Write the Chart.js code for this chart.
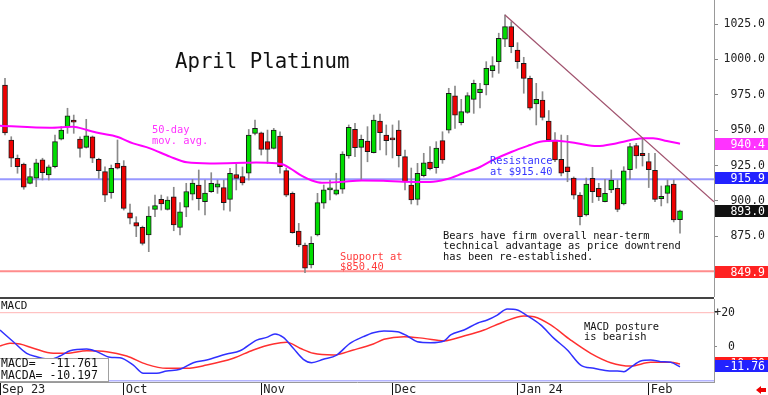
<!DOCTYPE html>
<html lang="en">
<head>
<meta charset="utf-8">
<title>April Platinum</title>
<script src="https://cdn.jsdelivr.net/npm/chart.js@4.4.1/dist/chart.umd.min.js"></script>
<style>
  html, body { margin: 0; padding: 0; background: #fff; }
  #page { position: relative; width: 768px; height: 395px; overflow: hidden; background: #fff;
          font-family: "DejaVu Sans Mono", monospace; }
  canvas { position: absolute; left: 0; }
  #priceCanvas { top: 0; }
  #macdCanvas { top: 297px; }
  .txt { position: absolute; white-space: pre; font-size: 10.4px; line-height: 10.4px; color: #111; }
  .box { position: absolute; left: 715px; width: 53px; height: 12px; color: #fff; font-size: 11.5px;
         line-height: 12px; text-align: right; padding-right: 3px; box-sizing: border-box; }
  #sep { position: absolute; left: 0; top: 297px; width: 714px; height: 2px; background: #444; }
  #legendBox { position: absolute; left: -1px; top: 358px; width: 110px; height: 24px;
               border: 1px solid #a0a0a0; background: #fff; box-sizing: border-box; }
  #arrowHead { position: absolute; left: 756px; top: 386px; width: 0; height: 0;
               border-top: 4px solid transparent; border-bottom: 4px solid transparent; border-right: 5px solid #e00; }
  #arrowTail { position: absolute; left: 760px; top: 388px; width: 6px; height: 4px; background: #e00; }
</style>
</head>
<body>
<div id="page">
  <canvas id="priceCanvas" width="768" height="297"></canvas>
  <canvas id="macdCanvas" width="768" height="98"></canvas>
  <div id="sep"></div>

  <div class="txt" style="left:175px; top:49px; font-size:20.7px; line-height:24px;">April Platinum</div>
  <div class="txt" style="left:152px; top:124px; line-height:10.7px; color:#ff33ff;">50-day
mov. avg.</div>
  <div class="txt" style="left:490px; top:155px; line-height:11px; color:#3636ff;">Resistance
at $915.40</div>
  <div class="txt" style="left:340px; top:251px; line-height:10px; color:#ff3c3c;">Support at
$850.40</div>
  <div class="txt" style="left:443px; top:230px;">Bears have firm overall near-term
technical advantage as price downtrend
has been re-established.</div>
  <div class="txt" style="left:584px; top:321px; line-height:10px;">MACD posture
is bearish</div>
  <div class="txt" style="left:1px; top:300px; font-size:11px; line-height:12px;">MACD</div>

  <div id="legendBox"></div>
  <div class="txt" id="legendText" style="left:1px; top:357px; font-size:11.5px; line-height:12px;"></div>

  <div class="box" id="boxMa" style="background:#ff33ff;"></div>
  <div class="box" id="boxRes" style="background:#2222ff;"></div>
  <div class="box" id="boxLast" style="background:#111;"></div>
  <div class="box" id="boxSup" style="background:#ff2222;"></div>
  <div class="box" id="boxSig" style="background:#ff1a1a;"></div>
  <div class="box" id="boxMacd" style="background:#2222ff;"></div>

  <div id="arrowHead"></div>
  <div id="arrowTail"></div>
</div>

<script>
// ---- daily candles, Sep 5 2023 .. Feb 8 2024 ----
const opens  = [981.9, 943.1, 930.2, 926.1, 912.5, 916.1, 929.0, 918.4, 924.2, 943.6,
                952.5, 957.2, 943.8, 937.9, 945.4, 929.5, 920.7, 905.9, 926.6, 924.7,
                891.7, 884.7, 881.4, 876.0, 894.1, 901.2, 894.1, 903.0, 881.3, 895.6,
                904.9, 911.3, 899.5, 906.6, 909.7, 909.5, 901.2, 918.7, 917.3, 919.6,
                947.8, 948.2, 941.9, 937.2, 945.9, 921.4, 905.4, 878.8, 868.9, 854.8,
                876.0, 898.4, 907.8, 904.9, 908.3, 931.8, 950.6, 937.9, 942.4, 934.1,
                956.5, 946.6, 943.8, 950.1, 931.3, 911.3, 901.2, 917.9, 927.5, 923.6,
                942.6, 950.1, 974.2, 955.3, 962.6, 971.8, 976.5, 981.9, 992.0, 998.4,
                1014.2, 1023.1, 1006.6, 997.2, 986.6, 968.5, 971.3, 956.5, 943.1, 929.5,
                924.2, 916.2, 904.2, 890.1, 916.0, 909.0, 899.5, 907.8, 909.0, 897.9,
                922.2, 939.2, 933.7, 927.8, 921.7, 901.6, 905.4, 912.0, 886.9];
const highs  = [986.7, 945.4, 932.5, 926.8, 923.1, 929.5, 930.2, 925.4, 946.6, 952.5,
                965.5, 960.7, 945.4, 957.7, 945.9, 930.2, 924.2, 925.4, 943.1, 928.5,
                897.9, 888.9, 882.3, 896.0, 904.2, 904.2, 903.0, 909.7, 898.8, 912.5,
                915.3, 921.9, 914.8, 920.0, 914.8, 914.8, 923.1, 926.1, 924.0, 950.5,
                957.2, 948.7, 950.1, 951.3, 948.9, 923.3, 906.4, 884.2, 870.3, 874.8,
                905.4, 911.3, 914.8, 919.6, 934.8, 953.7, 954.9, 946.6, 952.5, 960.7,
                961.4, 953.7, 953.7, 956.7, 936.0, 923.3, 926.6, 933.7, 938.4, 941.9,
                948.9, 979.6, 981.2, 971.8, 976.5, 985.4, 983.1, 998.4, 1001.9, 1018.5,
                1031.4, 1026.6, 1011.8, 1001.5, 988.3, 983.1, 977.2, 963.9, 948.4, 946.6,
                946.3, 917.0, 905.9, 916.2, 923.8, 912.5, 915.3, 921.9, 914.8, 924.2,
                940.7, 940.7, 944.3, 933.7, 933.7, 910.6, 914.8, 914.8, 893.6];
const lows   = [946.6, 924.2, 919.6, 908.3, 912.0, 910.1, 914.8, 914.8, 923.3, 943.1,
                947.8, 947.8, 930.9, 937.4, 927.1, 916.0, 899.5, 901.9, 922.6, 893.6,
                883.8, 874.8, 868.9, 864.2, 888.9, 893.6, 893.6, 879.0, 876.0, 888.9,
                900.7, 893.6, 890.1, 906.0, 905.4, 893.6, 892.9, 907.8, 911.3, 914.8,
                946.6, 932.5, 926.6, 936.7, 919.6, 903.0, 877.2, 867.7, 849.4, 852.7,
                875.3, 894.8, 900.7, 904.2, 905.4, 930.2, 931.3, 914.8, 927.7, 933.9,
                936.0, 932.5, 930.4, 924.0, 907.8, 897.9, 897.2, 917.0, 921.9, 919.6,
                926.6, 948.0, 951.3, 953.7, 961.9, 961.9, 965.7, 974.9, 987.4, 990.2,
                1009.0, 1004.7, 993.7, 976.1, 964.3, 953.7, 957.2, 941.9, 927.7, 917.7,
                913.6, 901.4, 883.1, 889.4, 898.9, 900.3, 899.3, 905.9, 892.4, 897.2,
                915.5, 923.1, 924.7, 909.5, 899.5, 896.5, 898.6, 885.2, 877.2];
const closes = [948.0, 930.2, 924.2, 909.7, 917.2, 927.0, 920.0, 924.2, 941.9, 950.1,
                960.2, 955.6, 937.2, 946.1, 930.2, 921.4, 904.2, 923.1, 923.1, 894.8,
                887.8, 882.3, 870.1, 889.4, 896.7, 897.9, 900.7, 883.1, 892.4, 906.7,
                912.7, 901.6, 905.6, 912.4, 912.2, 898.8, 919.6, 916.0, 912.7, 946.6,
                951.3, 936.5, 936.5, 950.1, 924.2, 904.2, 877.6, 868.9, 852.5, 870.1,
                898.8, 907.8, 909.0, 907.8, 933.2, 952.0, 937.6, 943.6, 934.8, 957.2,
                948.2, 942.6, 943.2, 932.0, 913.6, 900.7, 919.6, 927.0, 922.8, 937.4,
                929.0, 976.1, 960.7, 963.1, 974.4, 983.1, 979.1, 993.7, 995.6, 1014.9,
                1023.1, 1009.0, 998.4, 986.6, 965.5, 971.8, 959.1, 943.1, 929.0, 919.6,
                920.7, 904.2, 889.0, 911.9, 906.6, 902.8, 905.4, 914.8, 894.0, 921.3,
                938.4, 931.8, 932.0, 922.1, 901.2, 903.3, 910.9, 886.6, 893.0];

// 50-day moving average, read at sampled candle positions
const maIdx  = [-0.8, 7.2, 10.9, 13.1, 15.2, 17.9, 20.5, 23.2, 26.4, 29.1, 32.8, 38.4, 40.2,
                43.4, 44.5, 45.8, 47.5, 49.1, 50.7, 53.6, 57.1, 60.5, 63.7, 68, 70.6, 73.3,
                76, 78.1, 81.1, 84, 85.6, 88.3, 91.5, 94.7, 97.9, 102.1, 103.7, 105.9, 108];
const maVals = [953.2, 951.8, 952.5, 950.1, 947.8, 945.4, 940.7, 937.2, 931.3, 927.3, 926.5,
                927.0, 927.2, 926.6, 925.8, 922.6, 917.7, 914.5, 912.9, 913.4, 914.5, 914.3,
                913.6, 913.4, 915.3, 919.6, 924.0, 929.0, 934.8, 939.5, 941.9, 942.6, 940.8,
                938.8, 940.8, 944.3, 944.3, 942.4, 940.4];

// MACD (blue) and MACDA signal (red)
const macdIdx  = [-0.8, 1.33, 3.47, 5.07, 7.2, 8.8, 10.4, 13.07, 14.67, 16.8, 18.4, 20.53,
                  22.13, 24.27, 25.87, 28, 30.13, 32.27, 35.47, 37.6, 40.27, 41.87, 43.2,
                  44.53, 46.13, 47.73, 49.07, 50.93, 53.07, 55.2, 57.33, 58.93, 60.64, 62.77,
                  64.37, 65.97, 68.11, 70.24, 71.31, 73.44, 75.57, 77.17, 78.77, 80.37, 81.97,
                  83.57, 85.71, 87.84, 89.97, 92.11, 94.24, 96.37, 97.97, 99.04, 100.11,
                  101.71, 103.31, 104.91, 106.51, 108];
const macdVals = [9.8, 2.9, -3.9, -5.9, -7.4, -5.5, -2.4, -1.4, -2.9, -6.2, -6.5, -10.8,
                  -15.6, -15.6, -14.3, -13.3, -9.4, -7.8, -4.3, -2.4, 3.9, 5.5, 7.5,
                  5.5, -0.9, -7.4, -9.4, -7.4, -4.9, 2.0, 5.9, 8.2, 9.2, 8.8,
                  6.3, 2.9, 2.4, 3.4, 6.9, 9.8, 13.8, 15.7, 18.6, 22.2, 21.6,
                  18.2, 12.8, 4.9, -1.9, -10.8, -12.7, -14.1, -14.3, -14.7, -12.1,
                  -8.4, -7.8, -8.8, -9.2, -11.761];
const sigIdx   = [-0.8, 0.8, 2.4, 4.53, 7.73, 9.87, 13.07, 16.27, 19.47, 22.67, 25.87, 29.07,
                  32.27, 36.53, 39.73, 42.93, 45.07, 47.2, 49.33, 52.53, 55.73, 58.93, 60.64,
                  63.84, 67.04, 70.24, 73.44, 76.64, 79.84, 83.04, 84.64, 87.31, 90.51, 93.71,
                  96.91, 100.11, 103.31, 106.51, 108];
const sigVals  = [0.4, 2.0, 1.6, -0.9, -3.9, -3.9, -2.4, -2.9, -5.5, -10.4, -12.7, -12.7,
                  -10.8, -6.8, -1.9, 1.6, 2.6, -0.9, -3.9, -4.9, -1.9, 1.6, 4.4,
                  5.9, 4.9, 3.4, 6.3, 9.8, 14.7, 18.1, 17.6, 12.8, 3.9, -3.9,
                  -9.4, -11.4, -9.2, -9.2, -10.197];

// reference levels and trendline
const resistance = 915.4;
const support = 850.4;
const trendIdx = [80, 113.44];
const trendVals = [1031.4, 899.5];
const macdLevels = [20, -20];

// axis ticks and right-edge value tags
const priceTicks = [875, 900, 925, 950, 975, 1000, 1025];
const macdTicks = [20, 0];
const monthIdx = [-0.8, 19, 41, 62, 82, 103];
const monthLabels = ['Sep 23', 'Oct', 'Nov', 'Dec', 'Jan 24', 'Feb'];
const maTag = 940.4, resTag = 915.9, supTag = 849.9;

// x range: 6.25 px per candle, first candle at x=5
const X_MIN = -0.8, X_MAX = 113.44;

Chart.defaults.font.family = '"DejaVu Sans Mono", monospace';
Chart.defaults.color = '#222';

const tickFont = { family: '"DejaVu Sans Mono", monospace', size: 11.5 };
const idx = closes.map((_, i) => i);
const bodyColors = closes.map((c, i) => c >= opens[i] ? '#00dd00' : '#ee0000');
const flat = (v) => [{ x: X_MIN, y: v }, { x: X_MAX, y: v }];
const pairs = (xs, ys) => xs.map((x, k) => ({ x: x, y: ys[k] }));

function lineSet(data, color, width, order, extra) {
    return Object.assign({
        type: 'line', data: data, borderColor: color, borderWidth: width,
        pointRadius: 0, fill: false, order: order
    }, extra || {});
}

// ==================== PRICE PANEL ====================
// right axis: 714..765, labels right-aligned at 765
const priceChart = new Chart(document.getElementById('priceCanvas'), {
    type: 'bar',
    data: {
        datasets: [
            lineSet(flat(support), '#ff8c8c', 2, 7),
            lineSet(flat(resistance), '#9898ff', 2, 7),
            {
                type: 'bar', data: idx.map(i => ({ x: i, y: [lows[i], highs[i]] })),
                backgroundColor: '#8a8a8a', barThickness: 1, grouped: false, order: 6
            },
            {
                type: 'bar',
                data: idx.map(i => ({ x: i, y: [Math.min(opens[i], closes[i]), Math.max(opens[i], closes[i])] })),
                backgroundColor: bodyColors, borderColor: '#1a1a1a', borderWidth: 1,
                borderSkipped: false, barThickness: 5, minBarLength: 2, grouped: false, order: 5
            },
            lineSet(pairs(maIdx, maVals), '#ff00ff', 2, 4, { cubicInterpolationMode: 'monotone' }),
            lineSet(pairs(trendIdx, trendVals), '#a0526e', 1.2, 3)
        ]
    },
    options: {
        responsive: false,
        animation: false,
        events: [],
        layout: { padding: { top: 0, left: 0, bottom: 0, right: 3 } },
        plugins: { legend: { display: false }, tooltip: { enabled: false } },
        scales: {
            x: { type: 'linear', min: X_MIN, max: X_MAX, offset: false, display: false, grid: { offset: false } },
            y: {
                position: 'right', min: 832.2, max: 1041.95,
                afterBuildTicks: s => { s.ticks = priceTicks.map(v => ({ value: v })); },
                afterFit: s => { s.width = 51; s.paddingTop = 0; s.paddingBottom = 0; },
                ticks: { font: tickFont, crossAlign: 'far', padding: 4, callback: v => Number(v).toFixed(1) },
                grid: { drawOnChartArea: false, tickLength: 4, color: '#888' },
                border: { display: true, color: '#999' }
            }
        }
    }
});

// ==================== MACD PANEL ====================
// right axis: 714..735, labels right-aligned at 735
const macdChart = new Chart(document.getElementById('macdCanvas'), {
    type: 'line',
    data: {
        datasets: [
            lineSet(flat(macdLevels[0]), '#ffb4b4', 1, 4),
            lineSet(flat(macdLevels[1]), '#b4b4ff', 1.5, 4),
            lineSet(pairs(sigIdx, sigVals), '#ff3030', 1.5, 3, { cubicInterpolationMode: 'monotone' }),
            lineSet(pairs(macdIdx, macdVals), '#3030ff', 1.5, 2, { cubicInterpolationMode: 'monotone' })
        ]
    },
    options: {
        responsive: false,
        animation: false,
        events: [],
        layout: { padding: { top: 2, left: 0, right: 33, bottom: 0 } },
        plugins: { legend: { display: false }, tooltip: { enabled: false } },
        scales: {
            x: {
                type: 'linear', min: X_MIN, max: X_MAX, offset: false,
                afterBuildTicks: s => { s.ticks = monthIdx.map(v => ({ value: v })); },
                afterFit: s => { s.height = 13; s.paddingLeft = 0; s.paddingRight = 0; },
                ticks: {
                    font: { family: '"DejaVu Sans Mono", monospace', size: 12 },
                    align: 'start', labelOffset: 2, padding: -12, maxRotation: 0, autoSkip: false,
                    callback: v => monthLabels[monthIdx.indexOf(v)]
                },
                grid: { drawOnChartArea: false, tickLength: 13, color: '#111' },
                border: { display: true, color: '#999' }
            },
            y: {
                position: 'right', min: -20.76, max: 28.06,
                afterBuildTicks: s => { s.ticks = macdTicks.map(v => ({ value: v })); },
                afterFit: s => { s.width = 21; s.paddingTop = 0; s.paddingBottom = 0; },
                ticks: { font: tickFont, crossAlign: 'far', padding: 0, callback: v => (v > 0 ? '+' : '') + v },
                grid: { drawOnChartArea: false, tickLength: 3, color: '#888' },
                border: { display: true, color: '#999' }
            }
        }
    }
});

// ==================== VALUE TAGS ====================
function placeBox(id, chart, value, text, shift) {
    const el = document.getElementById(id);
    const y = chart.scales.y.getPixelForValue(value) + chart.canvas.offsetTop;
    el.style.top = Math.round(y - 6 + (shift || 0)) + 'px';
    el.textContent = text;
}

const lastClose = closes[closes.length - 1];
const lastMacd = macdVals[macdVals.length - 1];
const lastSig = sigVals[sigVals.length - 1];

placeBox('boxMa', priceChart, maTag, maTag.toFixed(1));
placeBox('boxRes', priceChart, resTag, resTag.toFixed(1));
placeBox('boxLast', priceChart, lastClose, lastClose.toFixed(1));
placeBox('boxSup', priceChart, supTag, supTag.toFixed(1));
placeBox('boxSig', macdChart, lastSig, lastSig.toFixed(2), -1);
placeBox('boxMacd', macdChart, lastMacd, lastMacd.toFixed(2), -1);

document.getElementById('legendText').textContent =
    'MACD=  ' + lastMacd.toFixed(3) + '\nMACDA= ' + lastSig.toFixed(3);
</script>
</body>
</html>
